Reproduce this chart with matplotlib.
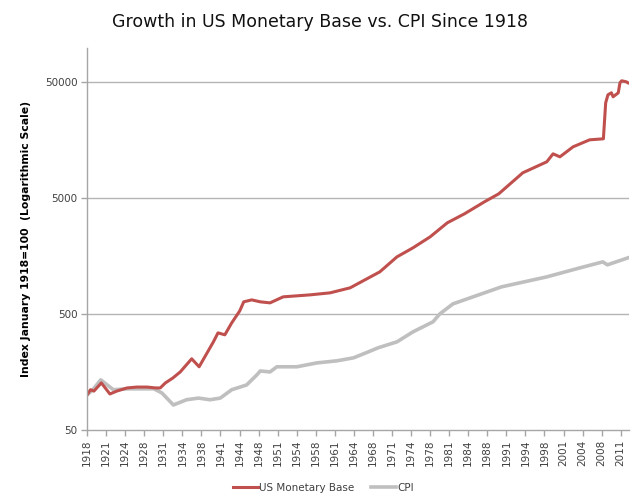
import matplotlib
matplotlib.use("Agg")
import matplotlib.pyplot as plt
from matplotlib.ticker import FixedLocator, NullLocator

# ---- data ----
mb_years = [1918.0, 1918.6, 1919.2, 1920.5, 1922.0, 1923.2, 1925.0, 1926.7, 1928.5,
            1930.0, 1930.8, 1931.7, 1933.0, 1934.3, 1936.3, 1937.6, 1940.1, 1940.9,
            1942.1, 1943.3, 1944.7, 1945.4, 1946.8, 1948.3, 1950.0, 1952.3, 1957.0,
            1960.5, 1964.0, 1966.6, 1969.2, 1972.2, 1975.0, 1978.0, 1981.0, 1984.0,
            1987.5, 1990.0, 1994.2, 1998.4, 1999.5, 2000.7, 2003.0, 2005.9, 2008.3,
            2008.7, 2009.1, 2009.7, 2010.0, 2010.9, 2011.2, 2011.5, 2012.3, 2012.6]
mb_values = [100, 111, 108, 127, 102, 108, 115, 117, 117,
             115, 115, 127, 140, 158, 205, 175, 287, 343,
             330, 418, 530, 635, 660, 635, 622, 701, 729,
             759, 838, 982, 1151, 1550, 1854, 2305, 3045, 3640,
             4620, 5415, 8215, 10220, 11970, 11280, 13760, 15810, 16130,
             32960, 38630, 40190, 37130, 40190, 49000, 51000, 50000, 49000]

cpi_years = [1918.0, 1919.0, 1920.4, 1922.6, 1925.0, 1927.4, 1929.7, 1931.1, 1932.8,
             1933.1, 1935.4, 1937.5, 1939.5, 1941.3, 1943.3, 1945.9, 1947.7, 1948.3,
             1950.0, 1951.2, 1954.7, 1958.2, 1961.7, 1964.6, 1966.8, 1968.9, 1972.2,
             1975.0, 1978.5, 1979.7, 1982.0, 1985.5, 1990.5, 1998.4, 2004.2, 2008.2,
             2009.0, 2012.6]
cpi_values = [100, 111, 135, 111, 113, 113, 113, 104, 85,
              82, 91, 94, 91, 94, 111, 122, 149, 161,
              158, 175, 175, 189, 197, 209, 231, 255, 287,
              350, 427, 500, 610, 701, 855, 1042, 1246, 1403,
              1323, 1520]

tick_labels = ["1918", "1921", "1924", "1928", "1931", "1934", "1938", "1941", "1944",
               "1948", "1951", "1954", "1958", "1961", "1964", "1968", "1971", "1974",
               "1978", "1981", "1984", "1988", "1991", "1994", "1998", "2001", "2004",
               "2008", "2011"]
y_ticks = [50, 500, 5000, 50000]

# ---- figure ----
plt.rcParams['font.family'] = ['DejaVu Sans']
fig = plt.figure(figsize=(6.4, 5.04), dpi=100)
ax = fig.add_axes([0.136, 0.147, 0.847, 0.758])

ax.plot(cpi_years, cpi_values, color='#bfbfbf', lw=2.6, label='CPI', solid_joinstyle='round')
ax.plot(mb_years, mb_values, color='#c0504d', lw=2.2, label='US Monetary Base', solid_joinstyle='round')

ax.set_yscale('log')
ax.set_ylim(50, 98000)
ax.set_xlim(1918.0, 2012.8)

ax.yaxis.set_major_locator(FixedLocator(y_ticks))
ax.yaxis.set_minor_locator(NullLocator())
ax.set_yticklabels([str(v) for v in y_ticks])
for v in y_ticks[1:]:
    ax.axhline(v, color='#b5b5b5', lw=1.0, zorder=0)

tick_pos = [1918 + k * 40 / 12 for k in range(len(tick_labels))]
ax.xaxis.set_major_locator(FixedLocator(tick_pos))
ax.xaxis.set_minor_locator(NullLocator())
ax.set_xticklabels(tick_labels, rotation=90)

for s in ['top', 'right']:
    ax.spines[s].set_visible(False)
for s in ['left', 'bottom']:
    ax.spines[s].set_color('#a6a6a6')
    ax.spines[s].set_linewidth(1.0)

ax.tick_params(axis='both', colors='#a6a6a6', labelcolor='#404040', labelsize=7.5,
               length=4, width=1, direction='out')
ax.tick_params(axis='x', pad=3)
ax.tick_params(axis='y', pad=3)

ax.set_ylabel('Index January 1918=100  (Logarithmic Scale)', fontsize=7.8,
              fontweight='bold', color='#000000')
ax.yaxis.set_label_coords(-0.103, 0.5)

fig.text(0.5, 0.956, 'Growth in US Monetary Base vs. CPI Since 1918',
         ha='center', va='center', fontsize=12.5, color='#111111')

h, l = ax.get_legend_handles_labels()
leg = fig.legend([h[1], h[0]], [l[1], l[0]], loc='center', bbox_to_anchor=(0.505, 0.032),
                 ncol=2, frameon=False, fontsize=7.5, handlelength=2.4,
                 handletextpad=0.1, columnspacing=1.6)
for t in leg.get_texts():
    t.set_color('#404040')

fig.savefig('out.png', dpi=100)
